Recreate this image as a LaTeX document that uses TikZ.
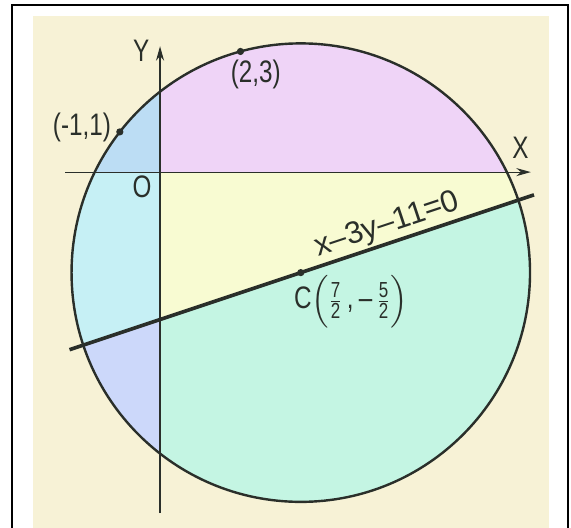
\documentclass[tikz,border=0pt]{standalone}
\usepackage{amsmath}
\usepackage{xcolor}
\usepackage{fontspec}
\setmainfont{Liberation Sans}[FakeStretch=0.78]
\newfontfamily\eqfont{Liberation Sans}
\definecolor{creme}{HTML}{F7F2D6}
\definecolor{rose}{HTML}{EFD4F7}
\definecolor{bleuclair}{HTML}{BCDDF4}
\definecolor{cyanclair}{HTML}{C6F0F5}
\definecolor{lavande}{HTML}{CCD8FA}
\definecolor{jaunepale}{HTML}{F8FBD2}
\definecolor{menthe}{HTML}{C4F5E3}
\definecolor{encre}{HTML}{2A2F2A}
\usetikzlibrary{arrows.meta,calc}

\begin{document}
\begin{tikzpicture}[
  axe/.style={encre,line width=0.8pt,-{Stealth[length=3.6mm,width=2mm]}},
  cercle/.style={encre,line width=1.7pt},
  droite/.style={encre,line width=2.6pt},
  pt/.style={circle,fill=encre,inner sep=0pt,minimum size=1.8mm},
  lbl/.style={font=\fontsize{22}{26}\selectfont,text=encre,inner sep=1pt}
]
\useasboundingbox (-3.98,-8.83) rectangle (10.22,4.28);
% cadre et fond
\draw[line width=1.5pt] (-3.68,-9.3) rectangle (10.15,4.15);
\fill[creme] (-3.16,-9.3) rectangle (9.68,3.88);
% zones dans le cercle
\begin{scope}
  \clip (3.5,-2.5) circle ({sqrt(32.5)});
  \fill[rose] (0,0) rectangle (10,4);
  \fill[bleuclair] (-3,0) rectangle (0,4);
  \fill[cyanclair] (-3,0) -- (0,0) -- (0,-11/3) -- (-3,-14/3) -- cycle;
  \fill[lavande] (-3,-14/3) -- (0,-11/3) -- (0,-9) -- (-3,-9) -- cycle;
  \fill[jaunepale] (0,0) -- (10,0) -- (10,-1/3) -- (0,-11/3) -- cycle;
  \fill[menthe] (0,-11/3) -- (10,-1/3) -- (10,-9) -- (0,-9) -- cycle;
\end{scope}
% axes
\coordinate (xg) at (-2.36,0);
\coordinate (xd) at (9.22,0);
\coordinate (yb) at (0,-8.48);
\coordinate (yh) at (0,3.13);
\draw[axe] (xg) -- (xd);
\draw[axe] (yb) -- (yh);
% cercle et droite
\draw[cercle] (3.5,-2.5) circle ({sqrt(32.5)});
\coordinate (dg) at (-2.25,{(-2.25-11)/3});
\coordinate (dd) at (9.3,{(9.3-11)/3});
\draw[droite] (dg) -- (dd);
% points
\node[pt] (A) at (-1,1) {};
\node[pt] (B) at (2,3) {};
\node[pt] (C) at (3.5,-2.5) {};
% etiquettes
\node[lbl] (lX) at (8.96,0.6) {X};
\node[lbl] (lY) at (-0.47,3.01) {Y};
\node[lbl] (lO) at (-0.45,-0.37) {O};
\node[lbl,anchor=east] (lA) at (-1.18,1.12) {(-1,1)};
\node[lbl] (lB) at (2.38,2.44) {(2,3)};
\node[lbl,rotate=18.43] (leq) at (5.65,-1.32) {\eqfont x–3y–11=0};
\node[lbl,anchor=north west,inner sep=0pt] (lC) at (3.33,-2.55)
  {C$\Bigl(\frac{\text{7}}{\text{2}}\,\text{,\,–}\,\frac{\text{5}}{\text{2}}\Bigr)$};
\end{tikzpicture}
\end{document}
